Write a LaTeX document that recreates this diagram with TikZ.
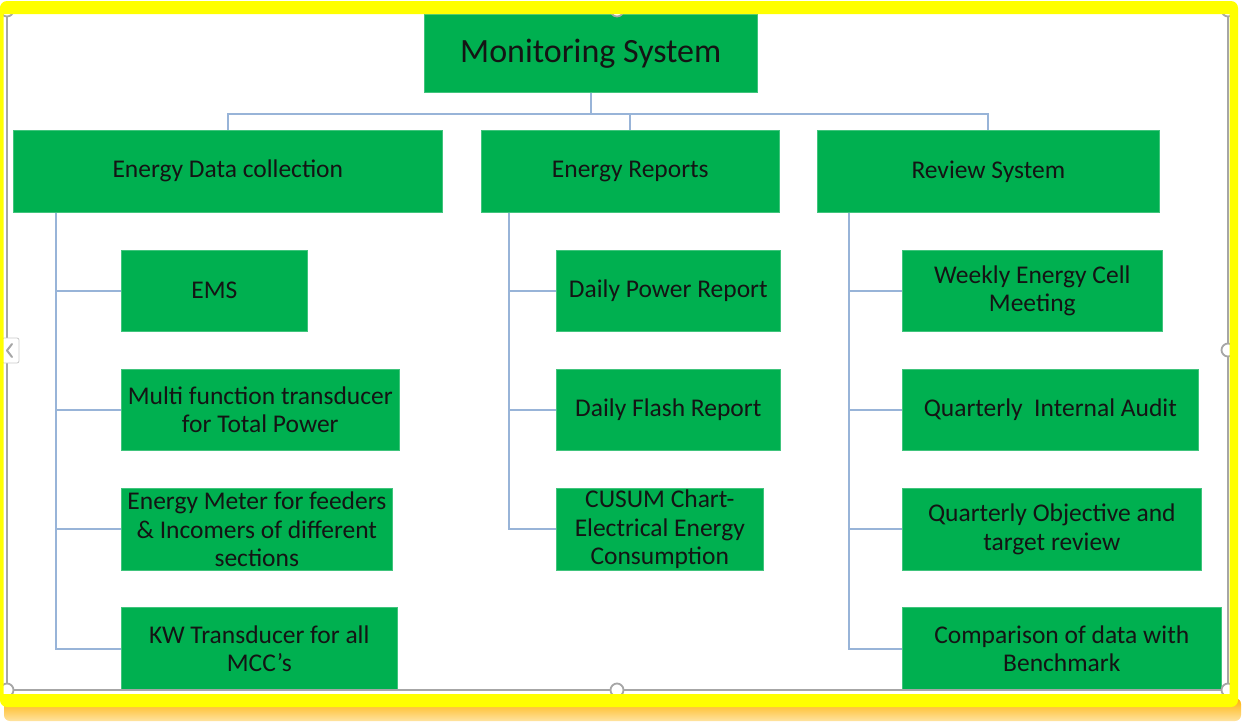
\documentclass[tikz,border=0pt]{standalone}
\usepackage{fontspec}
\setmainfont{Carlito}
\definecolor{boxgreen}{HTML}{00B050}
\definecolor{txt}{HTML}{141414}
\definecolor{connblue}{HTML}{98B4D8}
\definecolor{handlegray}{HTML}{A6A6A6}
\definecolor{frameyellow}{HTML}{FFFF00}
\definecolor{shadeorange}{HTML}{FFB000}
\definecolor{shadelight}{HTML}{FFE3A0}
\begin{document}
\begin{tikzpicture}[x=1pt,y=-1pt,
  box/.style={fill=boxgreen, draw=boxgreen!75!white, line width=0.6pt, inner sep=0pt,
    anchor=north west, align=center, text=txt, font=\fontsize{25.5}{28.5}\selectfont},
  conn/.style={draw=connblue, line width=1.9pt},
  handle/.style={circle, draw=handlegray, fill=white, line width=1.8pt,
    minimum size=13pt, inner sep=0pt}]
\useasboundingbox (0,0) rectangle (1242,721);
\fill[white] (0,0) rectangle (1242,721);

% drop shadow under the yellow frame
\shade[top color=shadeorange, bottom color=shadelight, rounded corners=6pt]
  (4,698) rectangle (1241,721);

% ---- boxes ----
\node[box, minimum width=333pt, minimum height=78pt,
      font=\fontsize{34}{40}\selectfont] (root) at (424,14) {Monitoring System};

\node[box, minimum width=429pt, minimum height=82pt] (c1) at (13,130) {Energy Data collection};
\node[box, minimum width=298pt, minimum height=82pt] (c2) at (481,130) {Energy Reports};
\node[box, minimum width=342pt, minimum height=82pt] (c3) at (817,130) {Review System};

\node[box, minimum width=186pt, minimum height=81pt] (ems) at (121,250) {EMS};
\node[box, minimum width=278pt, minimum height=81pt] (mft) at (121,369) {Multi function transducer\\for Total Power};
\node[box, minimum width=271pt, minimum height=82pt] (emf) at (121,488) {Energy Meter for feeders\\\& Incomers of different\\sections};
\node[box, minimum width=276pt, minimum height=83pt] (kw) at (121,607) {KW Transducer for all\\MCC’s};

\node[box, minimum width=224pt, minimum height=81pt] (dpr) at (556,250) {Daily Power Report};
\node[box, minimum width=224pt, minimum height=81pt] (dfr) at (556,369) {Daily Flash Report};
\node[box, minimum width=207pt, minimum height=82pt] (cus) at (556,488) {CUSUM Chart-\\Electrical Energy\\Consumption};

\node[box, minimum width=260pt, minimum height=81pt] (wec) at (902,250) {Weekly Energy Cell\\Meeting};
\node[box, minimum width=296pt, minimum height=81pt] (qia) at (902,369) {Quarterly\ \ Internal Audit};
\node[box, minimum width=299pt, minimum height=82pt] (qot) at (902,488) {Quarterly Objective and\\target review};
\node[box, minimum width=319pt, minimum height=83pt] (cmp) at (902,607) {Comparison of data with\\Benchmark};

% ---- connectors ----
\draw[conn] (root.south) -- ++(0,21) -| (c1.north);
\draw[conn] (root.south) -- ++(0,21) -| (c2.north);
\draw[conn] (root.south) -- ++(0,21) -| (c3.north);

\coordinate (s1) at ([xshift=43pt]c1.south west);
\coordinate (s2) at ([xshift=28pt]c2.south west);
\coordinate (s3) at ([xshift=32pt]c3.south west);

\draw[conn] (s1) |- (ems.west) (s1) |- (mft.west) (s1) |- (emf.west) (s1) |- (kw.west);
\draw[conn] (s2) |- (dpr.west) (s2) |- (dfr.west) (s2) |- (cus.west);
\draw[conn] (s3) |- (wec.west) (s3) |- (qia.west) (s3) |- (qot.west) (s3) |- (cmp.west);

% ---- selection frame and handles ----
\draw[handlegray, line width=1.8pt] (7,10) -- (7,690) -- (1228,690) -- (1228,10);
\node[handle] (h1) at (7,690) {};
\node[handle] (h2) at (617,690) {};
\node[handle] (h3) at (1228,690) {};
\node[handle] (h4) at (1228,350) {};
\node[handle] (h5) at (617,10) {};
\node[handle] (h6) at (7,10) {};
\node[handle] (h7) at (1228,10) {};
\draw[handlegray!60, fill=white, line width=0.8pt, rounded corners=2pt] (2,338) rectangle (19,363);
\draw[handlegray, line width=2pt, line cap=round, line join=round] (12,344) -- (7,350.5) -- (12,357);

% ---- yellow outer frame ----
\fill[frameyellow, even odd rule, rounded corners=7pt]
  (0,1) rectangle (1238,707)
  [sharp corners] (3.5,14) rectangle (1229.5,694);
\end{tikzpicture}
\end{document}
